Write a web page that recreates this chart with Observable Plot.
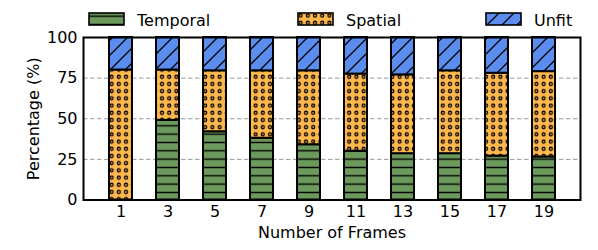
<!DOCTYPE html>
<html>
<head>
<meta charset="utf-8">
<script src="https://cdn.jsdelivr.net/npm/d3@7"></script>
<script src="https://cdn.jsdelivr.net/npm/@observablehq/plot@0.6"></script>
<style>
  body { margin: 0; background: #fff; font-family: "DejaVu Sans", sans-serif; }
  #wrap { width: 598px; }
  #legend { position: relative; height: 30px; width: 598px; }
  .item { position: absolute; top: 0; }
  .item svg { position: absolute; }
  .item span { position: absolute; font-size: 16px; line-height: 16px; white-space: nowrap; color: #000; }
</style>
</head>
<body>
<svg width="0" height="0" style="position:absolute">
  <defs>
    <pattern id="pT" patternUnits="userSpaceOnUse" width="8" height="8.33">
      <rect width="8" height="8.33" fill="#6b9a5c"/>
      <line x1="-1" x2="9" y1="4.17" y2="4.17" stroke="#000" stroke-width="1.4"/>
    </pattern>
    <pattern id="pS" patternUnits="userSpaceOnUse" width="7.2" height="7.2">
      <rect width="7.2" height="7.2" fill="#ffb84d"/>
      <circle cx="3.6" cy="3.6" r="1.5" fill="none" stroke="#000" stroke-width="1.3"/>
    </pattern>
    <pattern id="pU" patternUnits="userSpaceOnUse" width="15" height="15">
      <rect width="15" height="15" fill="#5b8def"/>
      <path d="M0,15 L15,0 M-2,2 L2,-2 M13,17 L17,13" stroke="#000" stroke-width="1.3"/>
    </pattern>
  </defs>
</svg>
<div id="wrap">
  <div id="legend"></div>
  <div id="chart"></div>
</div>
<script>
const frames = ["1", "3", "5", "7", "9", "11", "13", "15", "17", "19"];
const temporal = [0, 49, 42, 38, 34, 30, 28.5, 28.5, 27, 26.5];
const spatial = [80, 31, 37.5, 41.5, 45.5, 47.5, 48.5, 51, 51, 52.5];
const unfit = [20, 20, 20.5, 20.5, 20.5, 22.5, 23, 20.5, 22, 21];
const seriesNames = ["Temporal", "Spatial", "Unfit"];
const yTicks = [0, 25, 50, 75, 100];
const gridTicks = [25, 50, 75];

const fills = {Temporal: "url(#pT)", Spatial: "url(#pS)", Unfit: "url(#pU)"};
const seriesValues = {Temporal: temporal, Spatial: spatial, Unfit: unfit};

// stacked table
const rows = [];
frames.forEach((f, i) => {
  let acc = 0;
  for (const s of seriesNames) {
    const v = seriesValues[s][i];
    rows.push({frame: f, series: s, y1: acc, y2: acc + v});
    acc += v;
  }
});

// legend
const legendPos = {Temporal: [89, 137], Spatial: [298, 346], Unfit: [486, 534]};
const legend = document.getElementById("legend");
for (const s of seriesNames) {
  const [sx, tx] = legendPos[s];
  const item = document.createElement("div");
  item.className = "item";
  item.innerHTML = `<svg width="38" height="15" style="left:${sx - 1}px; top:12px">
      <rect x="1" y="1" width="35" height="12" fill="${fills[s]}" stroke="#000" stroke-width="1.6"/>
    </svg><span style="left:${tx}px; top:12.5px">${s}</span>`;
  legend.appendChild(item);
}

const barMarks = seriesNames.map(s =>
  Plot.barY(rows.filter(r => r.series === s), {
    x: "frame", y1: "y1", y2: "y2",
    fill: fills[s], stroke: "#000", strokeWidth: 2
  })
);

const chart = Plot.plot({
  width: 598,
  height: 220,
  marginTop: 7,
  marginBottom: 50.5,
  marginLeft: 83,
  marginRight: 18,
  style: {fontFamily: "DejaVu Sans, sans-serif", fontSize: "16px", color: "#000", background: "#fff", overflow: "visible"},
  x: {domain: frames, paddingInner: 0.52, paddingOuter: 0.5},
  y: {domain: [0, 100]},
  marks: [
    Plot.gridY(gridTicks, {stroke: "#999", strokeOpacity: 1, strokeWidth: 1, strokeDasharray: "4.5,2.5"}),
    ...barMarks,
    Plot.frame({stroke: "#000", strokeWidth: 2}),
    Plot.axisY(yTicks, {tickSize: 0, tickPadding: 6, fontSize: 16, label: "Percentage (%)", labelAnchor: "center", labelOffset: 56, labelArrow: "none"}),
    Plot.axisX({tickSize: 0, tickPadding: 6, fontSize: 16, label: "Number of Frames", labelAnchor: "center", labelOffset: 38, labelArrow: "none"})
  ]
});
chart.style.overflow = "visible";
document.getElementById("chart").appendChild(chart);
</script>
</body>
</html>
